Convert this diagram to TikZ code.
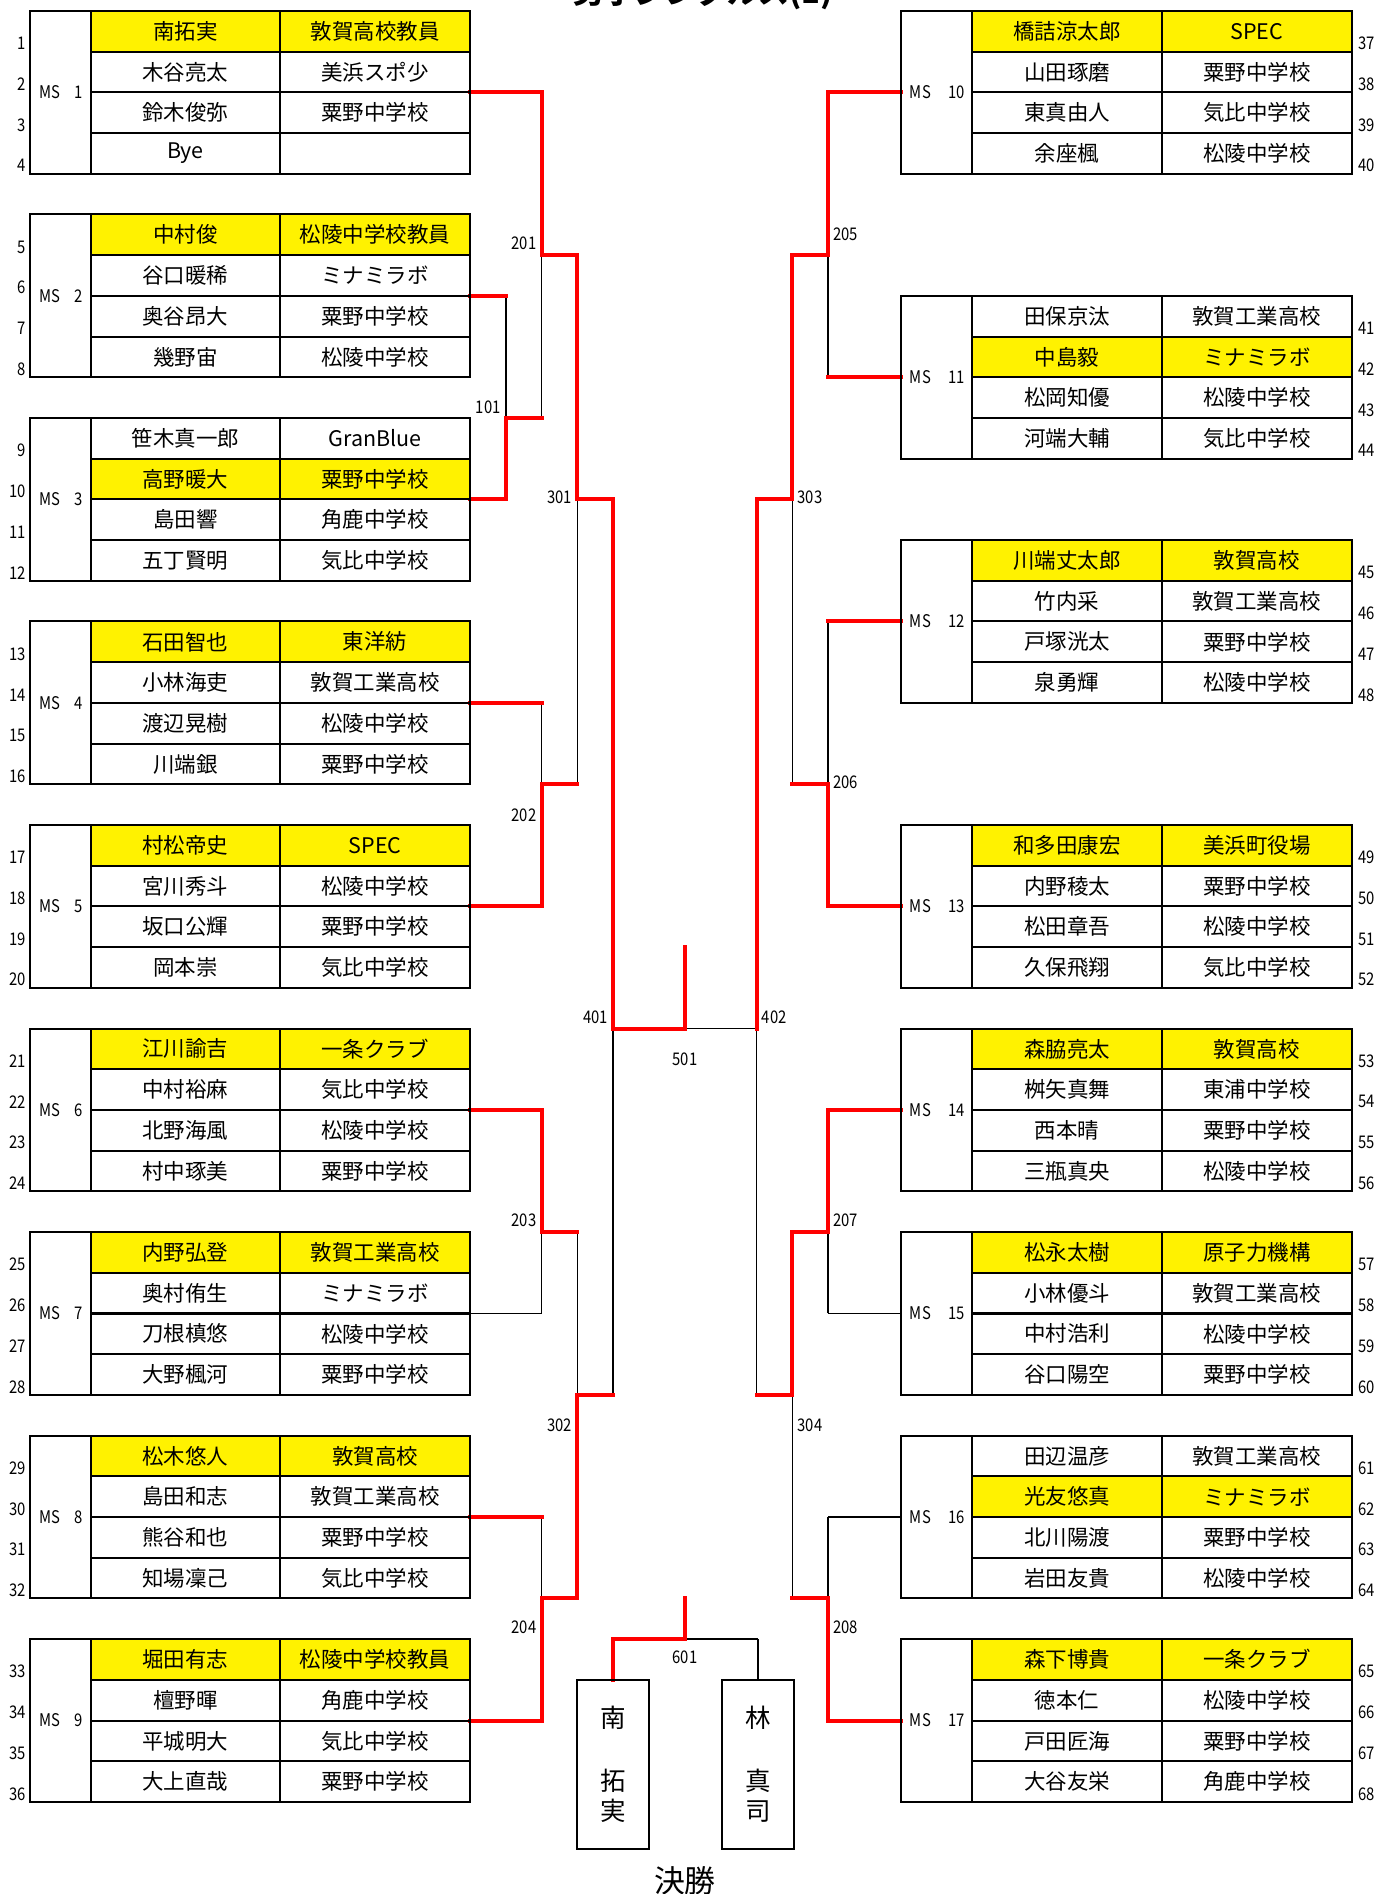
\documentclass[tikz,border=0pt]{standalone}
\usepackage{fontspec}
\setmainfont{Noto Sans CJK JP}
\newfontfamily\narrowfont{Noto Sans CJK JP}[FakeStretch=0.85]
\usetikzlibrary{positioning}

\pgfdeclarelayer{blacklines}
\pgfdeclarelayer{redlines}
\pgfsetlayers{blacklines,redlines,main}

\def\pxu{0.9pt}
\def\rh{33.7}
\def\cw{29.67}

\tikzset{
  cell/.style={font=\fontsize{16pt}{16pt}\selectfont, inner sep=0pt},
  numlbl/.style={font=\narrowfont\fontsize{13pt}{13pt}\selectfont, inner sep=1pt},
  msframe/.style={draw, line width=1.5pt, inner sep=0pt, outer sep=0pt},
  rule/.style={line width=1.5pt},
  winfill/.style={fill=yellow},
  win/.style={red, line width=3pt, line cap=rect},
  lose/.style={black, line width=1.2pt},
  finbox/.style={draw, line width=1.5pt, inner sep=0pt, outer sep=0pt,
    minimum width=54pt, minimum height=126pt, align=center,
    font=\fontsize{19pt}{22.5pt}\selectfont},
}

% side of the sheet: box edges, row number position
\newcommand{\setside}[6]{\def\xa{#1}\def\xb{#2}\def\xc{#3}\def\xd{#4}\def\numx{#5}\def\numanc{#6}}

% one league block: name, top row, MS number, yellow row, entries
\newcommand{\msblock}[5]{%
  \pgfmathsetmacro\yt{9+\rh*#2}
  \pgfmathsetmacro\yh{\yt+\rh*(#4-1)}
  \fill[winfill] (\xb,\yh) rectangle (\xd,{\yh+\rh});
  \node[msframe, anchor=north west, minimum width={(\xd-\xa)*\pxu},
    minimum height={4*\rh*\pxu}] (#1) at (\xa,\yt) {};
  \draw[rule] (\xb,\yt) -- ++(0,{4*\rh});
  \draw[rule] (\xc,\yt) -- ++(0,{4*\rh});
  \foreach \j in {1,2,3} \draw[rule] (\xb,{\yt+\rh*\j}) -- (\xd,{\yt+\rh*\j});
  \node[numlbl, anchor=west] (#1ms) at ({\xa+6},{\yt+2*\rh}) {MS};
  \node[numlbl, anchor=east] (#1no) at ({\xb-5},{\yt+2*\rh}) {#3};
  \foreach \nm/\sc [count=\i] in {#5} {
    \pgfmathtruncatemacro\rn{4*(#3-1)+\i}
    \node[cell] (#1a\i) at ({(\xb+\xc)/2},{\yt+\rh*(\i-0.5)}) {\nm};
    \node[cell] (#1b\i) at ({(\xc+\xd)/2},{\yt+\rh*(\i-0.5)}) {\sc};
    \node[numlbl, anchor=\numanc] (row\rn) at (\numx,{\yt+\rh*(\i-1)+27}) {\rn};
  }
}

% bracket pieces: 1 = red (winner), 0 = black
\newcommand{\seg}[3]{%
  \ifnum#1=1\relax
    \begin{pgfonlayer}{redlines}\draw[win] (#2) -- (#3);\end{pgfonlayer}%
  \else
    \begin{pgfonlayer}{blacklines}\draw[lose] (#2) -- (#3);\end{pgfonlayer}%
  \fi}
\newcommand{\link}[4]{\seg{#3}{#1}{#1 -| #2}\seg{#4}{#1 -| #2}{#2}}
\newcommand{\vlink}[4]{\seg{#3}{#1}{#1 |- #2}\seg{#4}{#1 |- #2}{#2}}

\begin{document}
\begin{tikzpicture}[x=\pxu, y=-\pxu]
\useasboundingbox (0,0) rectangle (1139,1568);

\node[anchor=base, font=\bfseries\fontsize{23pt}{23pt}\selectfont] (title) at (582,3) {男子シングルス(1)};

% left column
\setside{25}{75}{232}{389}{22.5}{east}
\msblock{ms1}{0}{1}{1}{南拓実/敦賀高校教員, 木谷亮太/美浜スポ少, 鈴木俊弥/粟野中学校, Bye/{}}
\msblock{ms2}{5}{2}{1}{中村俊/松陵中学校教員, 谷口暖稀/ミナミラボ, 奥谷昂大/粟野中学校, 幾野宙/松陵中学校}
\msblock{ms3}{10}{3}{2}{笹木真一郎/GranBlue, 高野暖大/粟野中学校, 島田響/角鹿中学校, 五丁賢明/気比中学校}
\msblock{ms4}{15}{4}{1}{石田智也/東洋紡, 小林海吏/敦賀工業高校, 渡辺晃樹/松陵中学校, 川端銀/粟野中学校}
\msblock{ms5}{20}{5}{1}{村松帝史/SPEC, 宮川秀斗/松陵中学校, 坂口公輝/粟野中学校, 岡本崇/気比中学校}
\msblock{ms6}{25}{6}{1}{江川諭吉/一条クラブ, 中村裕麻/気比中学校, 北野海風/松陵中学校, 村中琢美/粟野中学校}
\msblock{ms7}{30}{7}{1}{内野弘登/敦賀工業高校, 奥村侑生/ミナミラボ, 刀根槙悠/松陵中学校, 大野楓河/粟野中学校}
\msblock{ms8}{35}{8}{1}{松木悠人/敦賀高校, 島田和志/敦賀工業高校, 熊谷和也/粟野中学校, 知場凜己/気比中学校}
\msblock{ms9}{40}{9}{1}{堀田有志/松陵中学校教員, 檀野暉/角鹿中学校, 平城明大/気比中学校, 大上直哉/粟野中学校}

% right column
\setside{746}{805}{962}{1119}{1123}{west}
\msblock{ms10}{0}{10}{1}{橋詰涼太郎/SPEC, 山田琢磨/粟野中学校, 東真由人/気比中学校, 余座楓/松陵中学校}
\msblock{ms11}{7}{11}{2}{田保京汰/敦賀工業高校, 中島毅/ミナミラボ, 松岡知優/松陵中学校, 河端大輔/気比中学校}
\msblock{ms12}{13}{12}{1}{川端丈太郎/敦賀高校, 竹内采/敦賀工業高校, 戸塚洸太/粟野中学校, 泉勇輝/松陵中学校}
\msblock{ms13}{20}{13}{1}{和多田康宏/美浜町役場, 内野稜太/粟野中学校, 松田章吾/松陵中学校, 久保飛翔/気比中学校}
\msblock{ms14}{25}{14}{1}{森脇亮太/敦賀高校, 桝矢真舞/東浦中学校, 西本晴/粟野中学校, 三瓶真央/松陵中学校}
\msblock{ms15}{30}{15}{1}{松永太樹/原子力機構, 小林優斗/敦賀工業高校, 中村浩利/松陵中学校, 谷口陽空/粟野中学校}
\msblock{ms16}{35}{16}{2}{田辺温彦/敦賀工業高校, 光友悠真/ミナミラボ, 北川陽渡/粟野中学校, 岩田友貴/松陵中学校}
\msblock{ms17}{40}{17}{1}{森下博貴/一条クラブ, 徳本仁/松陵中学校, 戸田匠海/粟野中学校, 大谷友栄/角鹿中学校}

% final boxes
\node[finbox, anchor=north] (fin1) at ({389+\cw*4},{9+\rh*41}) {南\\[24pt]拓\\実};
\node[finbox, right=54pt of fin1] (fin2) {林\\[24pt]真\\司};
\node[font=\fontsize{23pt}{23pt}\selectfont] (kessho) at (567,1557) {決勝};

% match junctions (column, row)
\foreach \nm/\c/\k in {m101/1/10, m201/2/6, m202/2/19, m203/2/30, m204/2/39,
    m301/3/12, m302/3/34, m401/4/25, m501/6/25, w501/6/23,
    m205/10/6, m206/10/19, m207/10/30, m208/10/39, m303/9/12, m304/9/34,
    m402/8/25, m601/6/40, w601/6/39}
  \coordinate (\nm) at ({389+\cw*\c},{9+\rh*\k});

% match numbers
\foreach \nm/\c/\y in {101/1/337, 201/2/201, 202/2/675, 203/2/1010, 204/2/1347,
    301/3/412, 302/3/1180, 401/4/842}
  \node[numlbl, anchor=east] (l\nm) at ({389+\cw*\c-3},\y) {\nm};
\foreach \nm/\c/\y in {205/10/194, 206/10/648, 207/10/1010, 208/10/1347,
    303/9/412, 304/9/1180, 402/8/842}
  \node[numlbl, anchor=west] (l\nm) at ({389+\cw*\c+3},\y) {\nm};
\node[numlbl] (l501) at (567,877) {501};
\node[numlbl] (l601) at (567,1372) {601};

% left half
\link{ms1.east}{m201}{1}{1}
\link{ms2.east}{m101}{1}{0}
\link{ms3.east}{m101}{1}{1}
\link{m101}{m201}{1}{0}
\link{m201}{m301}{1}{1}
\link{ms4.east}{m202}{1}{0}
\link{ms5.east}{m202}{1}{1}
\link{m202}{m301}{1}{0}
\link{m301}{m401}{1}{1}
\link{ms6.east}{m203}{1}{1}
\link{ms7.east}{m203}{0}{0}
\link{m203}{m302}{1}{0}
\link{ms8.east}{m204}{1}{0}
\link{ms9.east}{m204}{1}{1}
\link{m204}{m302}{1}{1}
\link{m302}{m401}{1}{0}
\seg{1}{m401}{m501}
\seg{1}{m501}{w501}

% right half
\link{ms10.west}{m205}{1}{1}
\link{ms11.west}{m205}{1}{0}
\link{m205}{m303}{1}{1}
\link{ms12.west}{m206}{1}{0}
\link{ms13.west}{m206}{1}{1}
\link{m206}{m303}{1}{0}
\link{m303}{m402}{1}{1}
\link{ms14.west}{m207}{1}{1}
\link{ms15.west}{m207}{0}{0}
\link{m207}{m304}{1}{1}
\link{ms16.west}{m208}{0}{0}
\link{ms17.west}{m208}{1}{1}
\link{m208}{m304}{1}{0}
\link{m304}{m402}{1}{0}
\seg{0}{m402}{m501}

% final
\vlink{fin1.north}{m601}{1}{1}
\vlink{fin2.north}{m601}{0}{0}
\seg{1}{m601}{w601}
\end{tikzpicture}
\end{document}
